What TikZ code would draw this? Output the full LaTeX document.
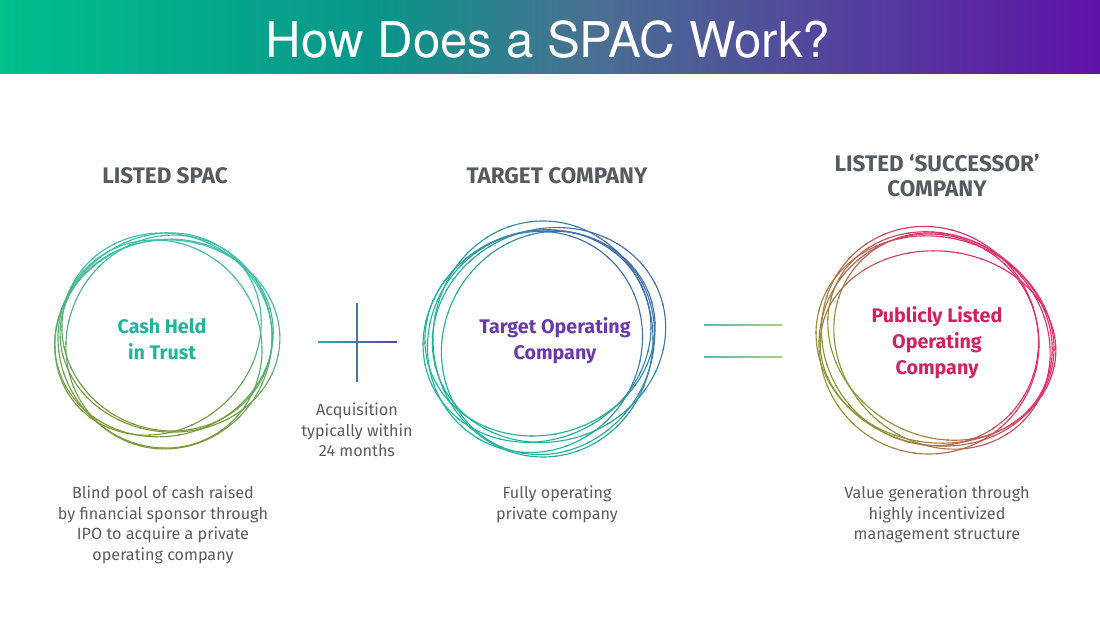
\documentclass[tikz,border=0pt]{standalone}
\usepackage{fontspec}
\setmainfont{Fira Sans}
\newfontfamily\titolofont{TeX Gyre Heros}
\usetikzlibrary{calc}

\definecolor{verde}{HTML}{00C08C}
\definecolor{verdeacqua}{HTML}{0A968A}
\definecolor{grigioblu}{HTML}{4A6F92}
\definecolor{viola}{HTML}{5E12A8}
\definecolor{titgrigio}{HTML}{555B5E}
\definecolor{testogrigio}{HTML}{5C5C5C}
\definecolor{acqua}{HTML}{21B49B}
\definecolor{acqua2}{HTML}{3CC0A8}
\definecolor{oliva}{HTML}{7A9A3A}
\definecolor{blu}{HTML}{4668AE}
\definecolor{porpora}{HTML}{6A3AAA}
\definecolor{cremisi}{HTML}{D2215F}
\definecolor{rosa}{HTML}{E0306A}
\definecolor{oliva2}{HTML}{8C9838}
\definecolor{ardesia}{HTML}{4C7590}
\definecolor{chiaro}{HTML}{B8C88A}

\pgfdeclarehorizontalshading{banda}{100bp}{color(0bp)=(verde); color(25bp)=(verde); color(42bp)=(verdeacqua); color(52bp)=(grigioblu); color(75bp)=(viola); color(100bp)=(viola)}

\tikzset{
  ring/.style={line width=0.8pt, line cap=round},
  titolo/.style={text=titgrigio, font=\fontsize{16}{17.8}\selectfont\bfseries, align=center},
  centro/.style={font=\fontsize{14}{18.5}\selectfont\bfseries, align=center},
  nota/.style={text=testogrigio, font=\fontsize{11.5}{14.6}\selectfont, align=center, anchor=north}
}

% anello: centro, colore A, colore B, angolo del colore A, spostamento, lista di ellissi
\newcommand{\anello}[6]{%
  \foreach \dx/\dy/\rx/\ry/\rot in {#6}{
    \begin{scope}[shift={(#1)}, shift={(\dx,\dy)}, rotate=\rot]
      \foreach \a in {0,12,...,348}{
        \pgfmathtruncatemacro\p{max(0,min(100,#5+65*cos(\a+6+\rot-#4)))}
        \draw[ring, #2!\p!#3] (\a:{\rx} and {\ry}) arc[start angle=\a, end angle=\a+13, x radius=\rx, y radius=\ry];
      }
    \end{scope}
  }
}

\begin{document}
\begin{tikzpicture}[x=0.025cm, y=0.025cm]
  \useasboundingbox (0,0) rectangle (1100,619);

  % Titolo
  \shade[shading=banda] (0,545) rectangle (1100,619);
  \node[text=white, font=\titolofont\fontsize{35}{38}\selectfont] (titolo) at (548,579) {How Does a SPAC Work?};

  % Intestazioni
  \node[titolo] (spac) at (165,443) {LISTED SPAC};
  \node[titolo] (target) at (557,443) {TARGET COMPANY};
  \node[titolo] (successore) at (937,443) {LISTED ‘SUCCESSOR’\\COMPANY};

  % Anelli
  \anello{164,281}{acqua2}{oliva}{80}{55}{0/0/110/98/15, 5/-4/102/108/-25, -6/4/108/96/40, 3/6/98/106/70, -4/-6/106/100/-55, 6/2/96/110/85}
  \anello{543,280}{blu}{acqua}{40}{30}{0/0/110/118/0, -6/3/116/104/25, 5/-4/104/114/-30, -8/-3/112/106/60, 6/4/106/118/-70, -3/6/116/102/15}
  \anello{935,278}{rosa}{oliva2}{30}{65}{0/0/120/104/-15, 5/5/116/100/-30, -6/-3/110/110/10, 3/-6/118/96/-5, -5/5/106/112/40, 7/0/114/102/-45}

  % Testi negli anelli
  \node[centro, text=acqua] (cassa) at (162,279.5) {Cash Held\\in Trust};
  \node[centro, text=porpora] (operativa) at (555,278.5) {Target Operating\\Company};
  \node[centro, text=cremisi] (quotata) at (937,276) {Publicly Listed\\Operating\\Company};

  % Piu
  \coordinate (ps) at (318,277);
  \coordinate (pd) at (397,277);
  \coordinate (pa) at (357,316);
  \coordinate (pb) at (357,237);
  \shade[left color=acqua, right color=porpora] ($(ps)+(0,-0.8)$) rectangle ($(pd)+(0,0.8)$);
  \draw[ardesia, line width=1pt] (pa) -- (pb);

  % Uguale
  \coordinate (u1s) at (704,294);
  \coordinate (u1d) at (782,294);
  \coordinate (u2s) at (704,262);
  \coordinate (u2d) at (782,262);
  \shade[left color=acqua!80, right color=chiaro] ($(u1s)+(0,-0.8)$) rectangle ($(u1d)+(0,0.8)$);
  \shade[left color=acqua!80, right color=chiaro] ($(u2s)+(0,-0.8)$) rectangle ($(u2d)+(0,0.8)$);

  % Note
  \node[nota] (acquisizione) at (357,221) {Acquisition\\typically within\\24 months};
  \node[nota] (nota1) at (163,138) {Blind pool of cash raised\\by financial sponsor through\\IPO to acquire a private\\operating company};
  \node[nota] (nota2) at (557,138) {Fully operating\\private company};
  \node[nota] (nota3) at (937,138) {Value generation through\\highly incentivized\\management structure};
\end{tikzpicture}
\end{document}
